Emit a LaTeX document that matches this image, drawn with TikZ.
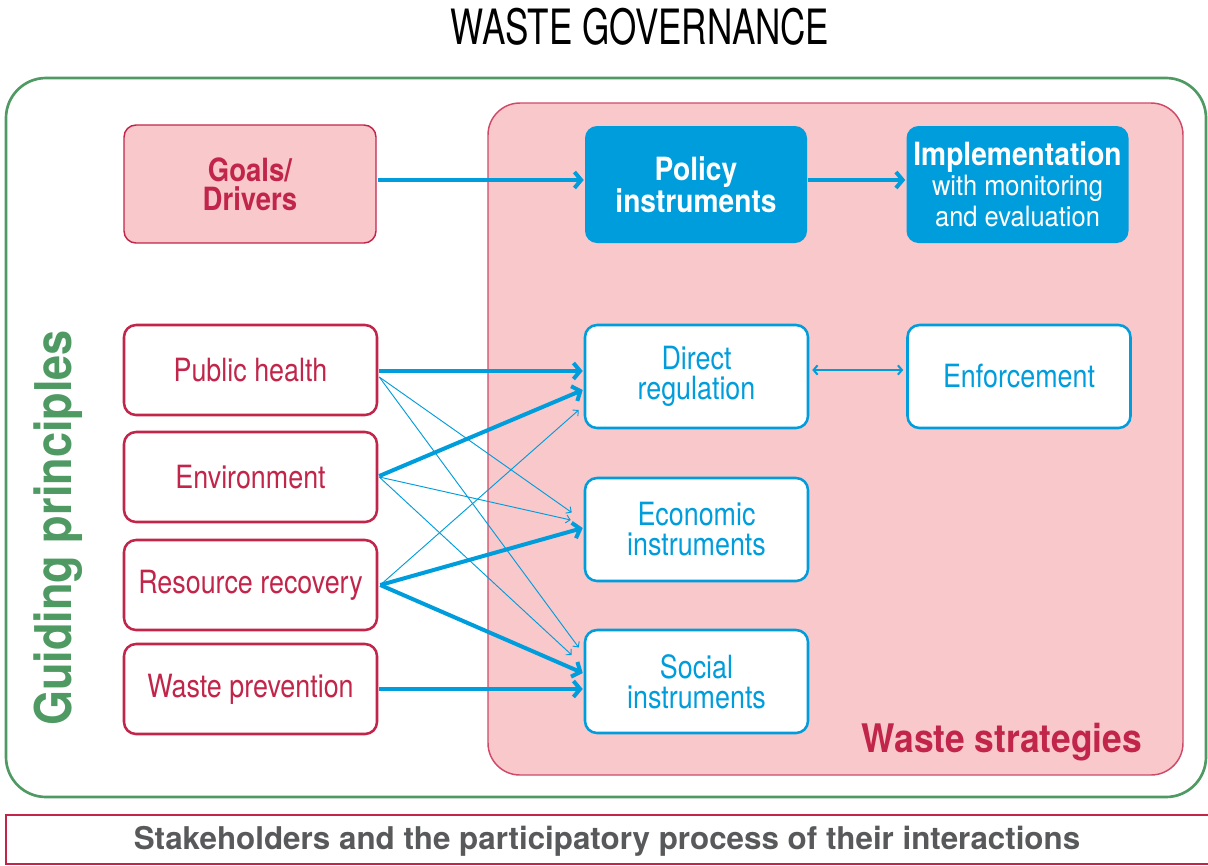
\documentclass[tikz,border=0pt]{standalone}
\usepackage{fontspec}
\usetikzlibrary{arrows.meta,calc}
\newfontfamily\fcond[FakeStretch=0.84]{TeX Gyre Heros}
\newfontfamily\fsub[FakeStretch=0.91]{TeX Gyre Heros}
\newfontfamily\fbold[FakeStretch=0.88]{TeX Gyre Heros}
\newfontfamily\fgoals[FakeStretch=0.86]{TeX Gyre Heros}
\newfontfamily\ftitle[FakeStretch=0.72]{TeX Gyre Heros}
\newfontfamily\fgp[FakeStretch=0.89]{TeX Gyre Heros}
\newfontfamily\fws[FakeStretch=0.9]{TeX Gyre Heros}
\newfontfamily\fplain{TeX Gyre Heros}
\definecolor{crimson}{HTML}{C1264A}
\definecolor{pinkfill}{HTML}{F9C8CB}
\definecolor{pinkline}{HTML}{CF4A69}
\definecolor{wblue}{HTML}{009DDC}
\definecolor{wgreen}{HTML}{4F9A63}
\definecolor{wgray}{HTML}{58595B}
\tikzset{
  leftbox/.style={draw=crimson, line width=1.9pt, fill=white, rounded corners=9pt,
    minimum width={253*0.75pt}, minimum height={90*0.75pt}, inner sep=0pt,
    text=crimson, font=\fcond\fontsize{24}{22.5}\selectfont},
  bluebox/.style={draw=wblue, line width=1.9pt, fill=white, rounded corners=9pt,
    minimum width={223*0.75pt}, minimum height={103*0.75pt}, inner sep=0pt,
    text=wblue, align=center, font=\fcond\fontsize{24}{22.5}\selectfont},
  solidbox/.style={fill=wblue, rounded corners=9pt,
    minimum width={222*0.75pt}, minimum height={117*0.75pt}, inner sep=0pt,
    text=white, align=center, font=\fbold\bfseries\fontsize{24}{22}\selectfont},
  goalsbox/.style={fill=pinkfill, draw=crimson, line width=1.1pt, rounded corners=9pt,
    minimum width={252*0.75pt}, minimum height={118*0.75pt}, inner sep=0pt,
    text=crimson, align=center, font=\fgoals\bfseries\fontsize{24}{22}\selectfont},
  thickarr/.style={draw=wblue, line width=3pt, -{Straight Barb[length=5pt,width=12pt]}},
  thinarr/.style={draw=wblue, line width=0.7pt, -{Straight Barb[length=3pt,width=6pt]}},
  medarr/.style={draw=wblue, line width=1.5pt, {Straight Barb[length=3pt,width=7pt]}-{Straight Barb[length=3pt,width=7pt]}}
}
\newcommand\subfont{\fsub\mdseries\fontsize{21}{22}\selectfont}
\begin{document}
\begin{tikzpicture}[x=0.75pt,y=-0.75pt]
\useasboundingbox (0,0) rectangle (1208,865);
% title
\node[font=\ftitle\fontsize{36.5}{40}\selectfont] (title) at (640,27) {WASTE GOVERNANCE};
% outer green frame
\draw[wgreen, line width=2pt, rounded corners=30pt] (6,78) rectangle (1206,797);
% waste strategies region
\draw[pinkline, line width=1.1pt, fill=pinkfill, rounded corners=24pt] (488,103) rectangle (1183,775);
\node[anchor=base, text=crimson, font=\fws\bfseries\fontsize{29.5}{32}\selectfont] (ws) at (1002,752) {Waste strategies};
% guiding principles
\node[rotate=90, text=wgreen, font=\fgp\bfseries\fontsize{38}{40}\selectfont] (gp) at (58,528) {Guiding principles};
% bottom bar
\draw[crimson, line width=1.1pt] (6,815) rectangle (1212,864);
\node[anchor=base, text=wgray, font=\fplain\bfseries\fontsize{23.5}{26}\selectfont] (stake) at (607,849) {Stakeholders and the participatory process of their interactions};
% top row
\node[goalsbox] (goals) at (250,184) {Goals/\\Drivers};
\node[solidbox] (policy) at (696,184.5) {Policy\\instruments};
\node[solidbox] (impl) at (1017.5,184.5) {Implementation\\[0pt]{\subfont with monitoring}\\[1.5pt]{\subfont and evaluation}};
% left boxes
\node[leftbox] (ph) at (250.5,370) {Public health};
\node[leftbox] (en) at (250.5,477) {Environment};
\node[leftbox] (rr) at (250.5,585) {Resource recovery};
\node[leftbox] (wp) at (250.5,689) {Waste prevention};
% instrument boxes
\node[bluebox] (dr) at (696.5,376.5) {Direct\\regulation};
\node[bluebox] (enf) at (1019,376.5) {Enforcement};
\node[bluebox] (ei) at (696.5,529.5) {Economic\\instruments};
\node[bluebox] (si) at (696.5,681.5) {Social\\instruments};
% top arrows
\draw[thickarr] ($(goals.east)+(1,-4)$) -- ($(policy.west)+(-1,-4.5)$);
\draw[thickarr] ($(policy.east)+(1,-4.5)$) -- ($(impl.west)+(-1,-4.5)$);
\draw[medarr] ($(dr.east)+(3,-6.5)$) -- ($(enf.west)+(-3,-6.5)$);
% principle -> instrument arrows
\draw[thickarr] ($(ph.east)+(1,1)$) -- ($(dr.west)+(-1,-5.5)$);
\draw[thinarr] ($(ph.east)+(1,7)$) -- ($(ei.west)+(-12,-17)$);
\draw[thinarr] ($(ph.east)+(1,7)$) -- ($(si.west)+(-5,-34)$);
\draw[thickarr] ($(en.east)+(1,-1)$) -- ($(dr.west)+(-1,13.5)$);
\draw[thinarr] ($(en.east)+(1,0)$) -- ($(ei.west)+(-13,-9.5)$);
\draw[thinarr] ($(en.east)+(1,0)$) -- ($(si.west)+(-12,-26.5)$);
\draw[thinarr] ($(rr.east)+(2,0)$) -- ($(dr.west)+(-5,33.5)$);
\draw[thickarr] ($(rr.east)+(2,0)$) -- ($(ei.west)+(-1,-1.5)$);
\draw[thickarr] ($(rr.east)+(2,0)$) -- ($(si.west)+(-1,-8.5)$);
\draw[thickarr] ($(wp.east)+(1,0)$) -- ($(si.west)+(-1,7.5)$);
\end{tikzpicture}
\end{document}
